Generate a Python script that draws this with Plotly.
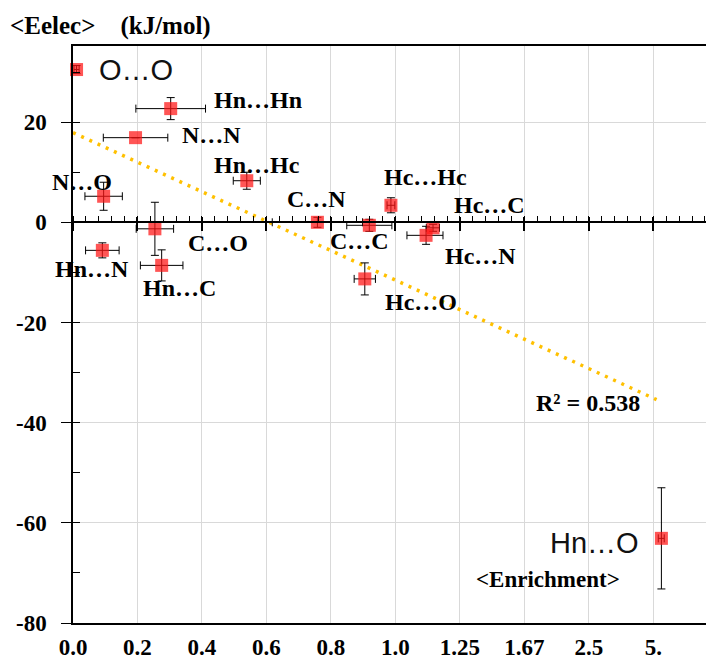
import plotly.graph_objects as go

# ---------------- data ----------------
pairs = ["O…O", "Hn…Hn", "N…N", "Hn…Hc", "N…O", "C…N", "C…O", "Hn…N",
         "Hn…C", "C…C", "Hc…Hc", "Hc…C", "Hc…N", "Hc…O", "Hn…O"]
enrichment = [0.011, 0.303, 0.194, 0.539, 0.095, 0.758, 0.254, 0.091,
              0.275, 0.919, 0.986, 1.132, 1.105, 0.905, 5.71]
enrichment_err = [0.008, 0.108, 0.100, 0.042, 0.058, 0.140, 0.058, 0.052,
                  0.066, 0.070, 0.012, 0.026, 0.068, 0.033, 0.30]
eelec = [30.5, 22.7, 16.9, 8.3, 5.2, 0.0, -1.3, -5.6,
         -8.6, -0.6, 3.4, -1.1, -2.6, -11.3, -63.1]
eelec_err = [0.8, 2.2, 0.0, 1.7, 2.8, 1.0, 5.3, 1.5,
             3.1, 1.2, 1.5, 0.7, 1.8, 3.2, 10.1]

trend_enrichment = [0.0, 5.26]
trend_eelec = [17.9, -35.4]
r2_text = "R² = 0.538"

tick_enrichment = [0.0, 0.2, 0.4, 0.6, 0.8, 1.0, 1.25, 5 / 3, 2.5, 5.0]
tick_text = ["0.0", "0.2", "0.4", "0.6", "0.8", "1.0", "1.25", "1.67", "2.5", "5."]
y_ticks = [-80, -60, -40, -20, 0, 20]
y_ticktext = ["-80", "-60", "-40", "-20", "0", "20"]


# enrichment axis: linear below 1, reciprocal (2 - 1/e) above 1
def fx(e):
    return e if e <= 1 else 2 - 1 / e


xpos = [fx(e) for e in enrichment]
xerr_plus = [fx(e + d) - fx(e) for e, d in zip(enrichment, enrichment_err)]
xerr_minus = [fx(e) - fx(e - d) for e, d in zip(enrichment, enrichment_err)]
tickpos = [fx(t) for t in tick_enrichment]

# ---------------- styles / layout ----------------
W, H = 714, 658
OFF = 8  # page body margin of the browser
ML, MR, MT, MB = 73 - OFF, OFF, 46 - OFF, 35 + OFF
XMIN, XMAX = 0.0, 1.988
YMIN, YMAX = -80.0, 35.2
zero_pos = (0 - YMIN) / (YMAX - YMIN)

SERIF = "Liberation Serif"
SANS = "Liberation Sans"

# label offsets (pixels) relative to each point: (xshift, yshift, xanchor, font)
label_style = {
    "O…O": (20, 0, "left", "sans"),
    "Hn…Hn": (41, 9, "left", "serif"),
    "N…N": (44, 3, "left", "serif"),
    "Hn…Hc": (10, 16, "center", "serif"),
    "N…O": (-22, 14, "center", "serif"),
    "C…N": (-1, 23, "center", "serif"),
    "C…O": (63, -14, "center", "serif"),
    "Hn…N": (-10, -19, "center", "serif"),
    "Hn…C": (18, -23, "center", "serif"),
    "C…C": (-10, -16, "center", "serif"),
    "Hc…Hc": (35, 28, "center", "serif"),
    "Hc…C": (56, 23, "center", "serif"),
    "Hc…N": (54, -21, "center", "serif"),
    "Hc…O": (56, -23, "center", "serif"),
    "Hn…O": (-20, -5, "right", "sans"),
}

fig = go.Figure()

fig.add_trace(go.Scatter(
    x=[fx(e) for e in trend_enrichment], y=trend_eelec, mode="lines",
    line=dict(color="#FFC000", width=3.5, dash="3px,6px"),
    hoverinfo="skip", showlegend=False, cliponaxis=False,
))

fig.add_trace(go.Scatter(
    x=xpos, y=eelec, mode="markers",
    marker=dict(symbol="square", size=13, color="rgba(255,20,20,0.72)", line=dict(width=0)),
    error_x=dict(type="data", symmetric=False, array=xerr_plus, arrayminus=xerr_minus,
                 color="black", thickness=1, width=4),
    error_y=dict(type="data", array=eelec_err, color="black", thickness=1, width=4),
    showlegend=False, cliponaxis=False, text=pairs,
))

# empty traces to register overlay axes (zero-line axis and inside ticks)
fig.add_trace(go.Scatter(x=[], y=[], xaxis="x2", yaxis="y", showlegend=False, hoverinfo="skip"))
fig.add_trace(go.Scatter(x=[], y=[], xaxis="x3", yaxis="y", showlegend=False, hoverinfo="skip"))
fig.add_trace(go.Scatter(x=[], y=[], xaxis="x", yaxis="y2", showlegend=False, hoverinfo="skip"))

annotations = []
for name, x, y in zip(pairs, xpos, eelec):
    xs, ys, xa, fam = label_style[name]
    if fam == "sans":
        font = dict(family=SANS, size=29, color="#111111")
    else:
        font = dict(family=SERIF, size=24, color="black", weight="bold")
    annotations.append(dict(x=x, y=y, xref="x", yref="y", text=name, showarrow=False,
                            xanchor=xa, yanchor="middle", xshift=xs, yshift=ys, font=font))

annotations.append(dict(x=fx(trend_enrichment[1]), y=trend_eelec[1], xref="x", yref="y",
                        text=r2_text, showarrow=False, xanchor="right", yanchor="middle",
                        xshift=-15, yshift=-3,
                        font=dict(family=SERIF, size=24, color="black", weight="bold")))
annotations.append(dict(x=1.474, y=-71.4, xref="x", yref="y", text="&lt;Enrichment&gt;",
                        showarrow=False, xanchor="center", yanchor="middle",
                        font=dict(family=SERIF, size=23, color="black", weight="bold")))

tickfont = dict(family=SERIF, size=23, color="black", weight="bold")

fig.update_layout(
    width=W, height=H,
    margin=dict(l=ML, r=MR, t=MT, b=MB, autoexpand=False),
    paper_bgcolor="white", plot_bgcolor="white",
    showlegend=False,
    annotations=annotations,
    title=dict(text="&lt;Eelec&gt;\u00a0\u00a0\u00a0\u00a0(kJ/mol)", xref="container", yref="container",
               x=(10 - OFF) / W, y=1 - (25 - OFF) / H, xanchor="left", yanchor="middle",
               font=dict(family=SERIF, size=25, color="black", weight="bold")),
    xaxis=dict(range=[XMIN, XMAX], tickvals=tickpos, ticktext=tick_text, automargin=False,
               showgrid=True, gridcolor="#d9d9d9", gridwidth=1,
               showline=True, linecolor="black", linewidth=1.5, mirror=True,
               ticks="", tickfont=tickfont, zeroline=False, ticklabelstandoff=3),
    xaxis2=dict(overlaying="x", matches="x", anchor="free", position=zero_pos, side="bottom",
                automargin=False,
                showline=True, linecolor="black", linewidth=1.5, showgrid=False, zeroline=False,
                showticklabels=False, ticks="outside", ticklen=8, tickcolor="black",
                tickwidth=1.5, tick0=0, dtick=0.2,
                minor=dict(ticks="inside", ticklen=6, tick0=0, dtick=0.04,
                           tickcolor="black", tickwidth=1.2, showgrid=False)),
    xaxis3=dict(overlaying="x", matches="x", anchor="free", position=zero_pos, side="bottom",
                automargin=False,
                showline=False, showgrid=False, zeroline=False, showticklabels=False,
                ticks="inside", ticklen=5, tickcolor="black", tickwidth=1.5, tick0=0, dtick=0.2),
    yaxis=dict(range=[YMIN, YMAX], tickvals=y_ticks, ticktext=y_ticktext, automargin=False,
               showgrid=True, gridcolor="#d9d9d9", gridwidth=1,
               showline=True, linecolor="black", linewidth=1.5, zeroline=False,
               ticks="outside", ticklen=10, tickcolor="black", tickwidth=1.2,
               tickfont=tickfont, ticklabelstandoff=10,
               minor=dict(ticks="inside", ticklen=7, tick0=0, dtick=10,
                          tickcolor="black", tickwidth=1.2, showgrid=False)),
    yaxis2=dict(overlaying="y", matches="y", side="left", anchor="x", automargin=False,
                showline=False, showgrid=False, zeroline=False, showticklabels=False,
                ticks="inside", ticklen=7, tickcolor="black", tickwidth=1.2,
                tickvals=y_ticks),
)

fig.write_html("out.html")
